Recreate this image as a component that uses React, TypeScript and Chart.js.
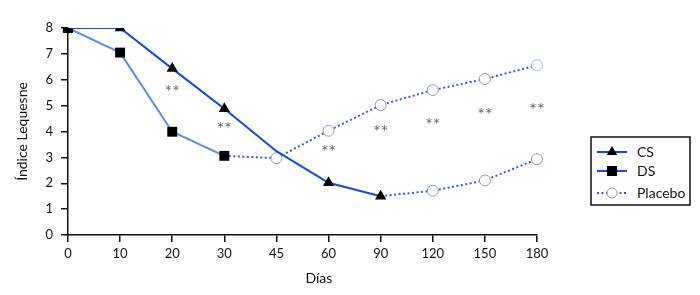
import React, { useEffect, useRef } from "react";
import { Chart, registerables } from "chart.js";

Chart.register(...registerables);

const dias = ["0", "10", "20", "30", "45", "60", "90", "120", "150", "180"];
const csValues = [8, 8, 6.43, 4.88, 3.24, 2.02, 1.5, null, null, null];
const dsValues = [8, 7.05, 3.99, 3.06, null, null, null, null, null, null];
const placeboUpper = [null, null, null, 3.06, 2.97, 4.03, 5.02, 5.6, 6.03, 6.56];
const placeboLower = [null, null, null, null, null, null, 1.5, 1.71, 2.11, 2.93];
const starValues = [null, null, 5.69, 4.27, null, 3.35, 4.12, 4.41, 4.8, 4.98];
const legendLabels = ["CS", "DS", "Placebo"];

const FONT = "Lato, 'Open Sans', sans-serif";
const CS_COLOR = "#1745ee";
const DS_COLOR = "#5c8cf2";
const DOT_COLOR = "#2a5cf0";
const CIRCLE_BORDER = "#9a9a9a";

const extrasPlugin = {
  id: "extras",
  afterDatasetsDraw(chart: any) {
    const ctx = chart.ctx;
    const xs = chart.scales.x;
    const ys = chart.scales.y;
    const area = chart.chartArea;
    ctx.save();
    // asterisks
    ctx.font = `18px ${FONT}`;
    ctx.fillStyle = "#6a6a6a";
    ctx.textAlign = "center";
    ctx.textBaseline = "alphabetic";
    const m = ctx.measureText("**");
    const asc = m.actualBoundingBoxAscent || 12;
    const desc = m.actualBoundingBoxDescent || -5;
    const shift = (asc - desc) / 2;
    starValues.forEach((v, i) => {
      if (v == null) return;
      ctx.fillText("**", xs.getPixelForValue(i), ys.getPixelForValue(v) + shift);
    });
    // axis titles
    ctx.textBaseline = "middle";
    ctx.fillStyle = "#111";
    ctx.font = `14px ${FONT}`;
    ctx.fillText("Días", area.left + (area.right - area.left) * 0.535, 278);
    ctx.save();
    ctx.translate(22, (area.top + area.bottom) / 2);
    ctx.rotate(-Math.PI / 2);
    ctx.fillText("Índice Lequesne", 0, 0);
    ctx.restore();

    // legend
    const bx = 591, by = 137, bw = 99, bh = 68;
    ctx.lineWidth = 1.5;
    ctx.strokeStyle = "#111";
    ctx.strokeRect(bx, by, bw, bh);
    const rows = [152, 171, 193];
    const lx0 = 597, lx1 = 627, mx = 612;
    rows.forEach((ry, k) => {
      ctx.beginPath();
      ctx.lineWidth = 2;
      ctx.strokeStyle = k === 2 ? DOT_COLOR : CS_COLOR;
      ctx.setLineDash(k === 2 ? [2, 2.5] : []);
      ctx.moveTo(lx0, ry);
      ctx.lineTo(lx1, ry);
      ctx.stroke();
      ctx.setLineDash([]);
      if (k === 0) {
        const r = 6;
        ctx.beginPath();
        ctx.moveTo(mx, ry - r);
        ctx.lineTo(mx + r * 0.866, ry + r / 2);
        ctx.lineTo(mx - r * 0.866, ry + r / 2);
        ctx.closePath();
        ctx.fillStyle = "#000";
        ctx.fill();
      } else if (k === 1) {
        ctx.fillStyle = "#000";
        ctx.fillRect(mx - 5, ry - 5, 10, 10);
      } else {
        ctx.beginPath();
        ctx.arc(mx, ry, 5, 0, Math.PI * 2);
        ctx.fillStyle = "#fff";
        ctx.fill();
        ctx.lineWidth = 1;
        ctx.strokeStyle = CIRCLE_BORDER;
        ctx.stroke();
      }
      ctx.fillStyle = "#111";
      ctx.font = `14px ${FONT}`;
      ctx.textAlign = "left";
      ctx.textBaseline = "middle";
      ctx.fillText(legendLabels[k], 637, ry);
    });
    ctx.restore();
  },
};

export default function App() {
  const ref = useRef<HTMLCanvasElement | null>(null);
  useEffect(() => {
    if (!ref.current) return;
    const upperBorders = placeboUpper.map((_, i) => (i === 9 ? "#9db5f5" : CIRCLE_BORDER));
    const chart = new Chart(ref.current, {
      type: "line",
      data: {
        labels: dias,
        datasets: [
          {
            label: "Placebo",
            data: placeboUpper,
            borderColor: DOT_COLOR,
            borderWidth: 2,
            borderDash: [2, 2.5],
            pointRadius: placeboUpper.map((_, i) => (i <= 3 ? 0 : 5.5)),
            pointStyle: "circle",
            pointBackgroundColor: "#fff",
            pointBorderColor: upperBorders,
            pointBorderWidth: 1,
            spanGaps: false,
            order: 3,
          },
          {
            label: "Placebo2",
            data: placeboLower,
            borderColor: DOT_COLOR,
            borderWidth: 2,
            borderDash: [2, 2.5],
            pointRadius: placeboLower.map((_, i) => (i <= 6 ? 0 : 5.5)),
            pointStyle: "circle",
            pointBackgroundColor: "#fff",
            pointBorderColor: CIRCLE_BORDER,
            pointBorderWidth: 1,
            order: 3,
          },
          {
            label: "DS",
            data: dsValues,
            borderColor: DS_COLOR,
            borderWidth: 2,
            pointStyle: "rect",
            pointRadius: 7,
            pointBackgroundColor: "#000",
            pointBorderColor: "#000",
            pointBorderWidth: 0,
            order: 2,
          },
          {
            label: "CS",
            data: csValues,
            borderColor: CS_COLOR,
            borderWidth: 2,
            pointStyle: "triangle",
            pointRadius: csValues.map((_, i) => (i === 4 ? 0 : 6.5)),
            pointBackgroundColor: "#000",
            pointBorderColor: "#000",
            pointBorderWidth: 0,
            order: 1,
          },
        ],
      },
      options: {
        animation: false,
        responsive: false,
        maintainAspectRatio: false,
        layout: { padding: { left: 0, right: 163, top: 28, bottom: 0 } },
        plugins: { legend: { display: false }, tooltip: { enabled: false } },
        elements: { line: { tension: 0 } },
        scales: {
          x: {
            type: "category",
            offset: false,
            grid: { display: true, drawOnChartArea: false, drawTicks: true, tickLength: 7, color: "#111", lineWidth: 1.5 },
            border: { display: true, color: "#111", width: 1.5 },
            ticks: { color: "#111", font: { family: FONT, size: 13 }, padding: 4, maxRotation: 0, autoSkip: false },
            afterFit: (s: any) => { s.height = 60; },
          },
          y: {
            min: 0,
            max: 8,
            grid: { display: true, drawOnChartArea: false, drawTicks: true, tickLength: 7, color: "#111", lineWidth: 1.5 },
            border: { display: true, color: "#111", width: 1.5 },
            ticks: { stepSize: 1, color: "#111", font: { family: FONT, size: 13 }, padding: 8 },
            afterFit: (s: any) => { s.width = 68; },
          },
        },
      },
      plugins: [extrasPlugin],
    });
    return () => chart.destroy();
  }, []);
  return (
    <div style={{ position: "fixed", left: 0, top: 0, width: 700, height: 295, background: "#fff" }}>
      <canvas ref={ref} width={700} height={295} style={{ width: 700, height: 295 }} />
    </div>
  );
}
